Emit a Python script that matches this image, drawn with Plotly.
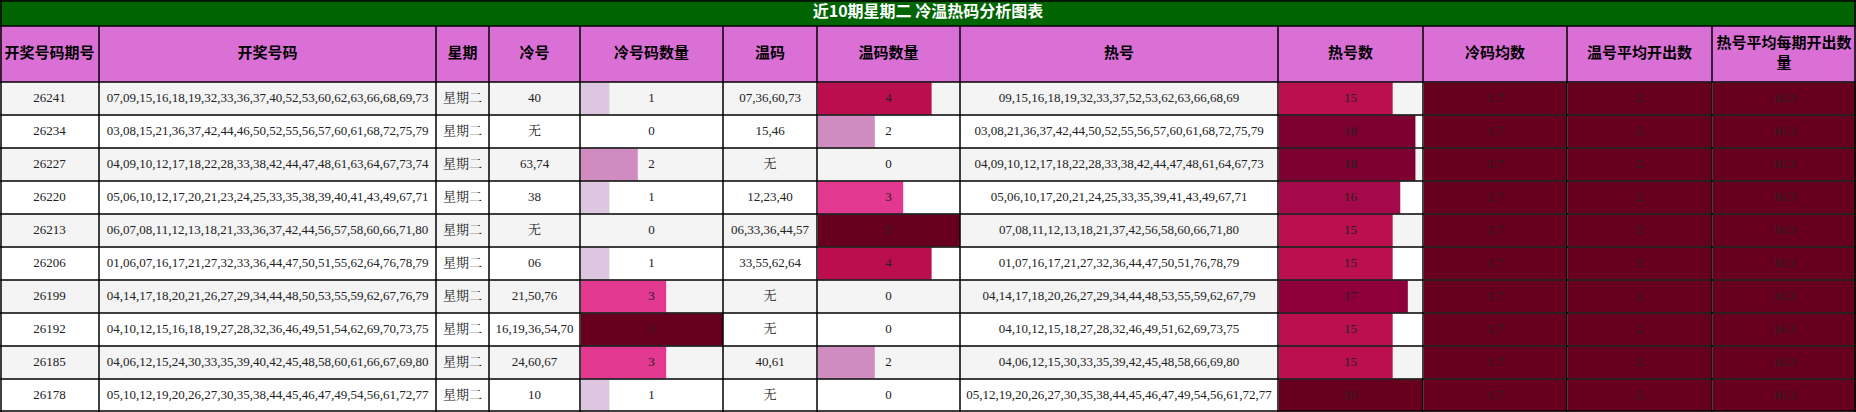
import plotly.graph_objects as go

# data
periods = ["26241", "26234", "26227", "26220", "26213", "26206", "26199", "26192", "26185", "26178"]
draws = [
    "07,09,15,16,18,19,32,33,36,37,40,52,53,60,62,63,66,68,69,73",
    "03,08,15,21,36,37,42,44,46,50,52,55,56,57,60,61,68,72,75,79",
    "04,09,10,12,17,18,22,28,33,38,42,44,47,48,61,63,64,67,73,74",
    "05,06,10,12,17,20,21,23,24,25,33,35,38,39,40,41,43,49,67,71",
    "06,07,08,11,12,13,18,21,33,36,37,42,44,56,57,58,60,66,71,80",
    "01,06,07,16,17,21,27,32,33,36,44,47,50,51,55,62,64,76,78,79",
    "04,14,17,18,20,21,26,27,29,34,44,48,50,53,55,59,62,67,76,79",
    "04,10,12,15,16,18,19,27,28,32,36,46,49,51,54,62,69,70,73,75",
    "04,06,12,15,24,30,33,35,39,40,42,45,48,58,60,61,66,67,69,80",
    "05,10,12,19,20,26,27,30,35,38,44,45,46,47,49,54,56,61,72,77",
]
weekday = ["星期二"] * 10
cold = ["40", "无", "63,74", "38", "无", "06", "21,50,76", "16,19,36,54,70", "24,60,67", "10"]
cold_n = [1, 0, 2, 1, 0, 1, 3, 5, 3, 1]
warm = ["07,36,60,73", "15,46", "无", "12,23,40", "06,33,36,44,57", "33,55,62,64", "无", "无", "40,61", "无"]
warm_n = [4, 2, 0, 3, 5, 4, 0, 0, 2, 0]
hot = [
    "09,15,16,18,19,32,33,37,52,53,62,63,66,68,69",
    "03,08,21,36,37,42,44,50,52,55,56,57,60,61,68,72,75,79",
    "04,09,10,12,17,18,22,28,33,38,42,44,47,48,61,64,67,73",
    "05,06,10,17,20,21,24,25,33,35,39,41,43,49,67,71",
    "07,08,11,12,13,18,21,37,42,56,58,60,66,71,80",
    "01,07,16,17,21,27,32,36,44,47,50,51,76,78,79",
    "04,14,17,18,20,26,27,29,34,44,48,53,55,59,62,67,79",
    "04,10,12,15,18,27,28,32,46,49,51,62,69,73,75",
    "04,06,12,15,30,33,35,39,42,45,48,58,66,69,80",
    "05,12,19,20,26,27,30,35,38,44,45,46,47,49,54,56,61,72,77",
]
hot_n = [15, 18, 18, 16, 15, 15, 17, 15, 15, 19]
cold_avg = [1.7] * 10
warm_avg = [2] * 10
hot_avg = [16.3] * 10

headers = ["开奖号码期号", "开奖号码", "星期", "冷号", "冷号码数量", "温码", "温码数量",
           "热号", "热号数", "冷码均数", "温号平均开出数", "热号平均每期开出数<br>量"]
title = "近10期星期二 冷温热码分析图表"

# layout geometry (pixels)
W, H = 1856, 412
edges = [0, 99, 436, 489, 580, 723, 817, 960, 1278, 1423, 1567, 1712, 1856]
TITLE_H, HEAD_H, ROW_H = 26, 56, 33
top = TITLE_H + HEAD_H

cnt_colors = {1: "#dcc6e0", 2: "#d08cc0", 3: "#e3388f", 4: "#bb0e4e", 5: "#67001f"}
hot_colors = {15: "#bc0f50", 16: "#a6094a", 17: "#8f003a", 18: "#7c0030", 19: "#67001f"}

columns = [periods, draws, weekday, cold, cold_n, warm, warm_n, hot, hot_n, cold_avg, warm_avg, hot_avg]
bar_cols = {4: (cold_n, 5, lambda v: cnt_colors.get(v)),
            6: (warm_n, 5, lambda v: cnt_colors.get(v)),
            8: (hot_n, 19, lambda v: hot_colors.get(v)),
            9: (cold_avg, 1.7, lambda v: "#67001f"),
            10: (warm_avg, 2, lambda v: "#67001f"),
            11: (hot_avg, 16.3, lambda v: "#67001f")}

row_y = [top + ROW_H * (i + 0.5) for i in range(len(periods))]

fig = go.Figure()
shapes = []
shapes.append(dict(type="rect", x0=0, x1=W, y0=0, y1=TITLE_H, fillcolor="#006400", line_width=0, layer="below"))
shapes.append(dict(type="rect", x0=0, x1=W, y0=TITLE_H, y1=top, fillcolor="#da70d6", line_width=0, layer="below"))
for i in range(len(periods)):
    shapes.append(dict(type="rect", x0=0, x1=W, y0=top + ROW_H * i, y1=top + ROW_H * (i + 1),
                       fillcolor="#f4f4f4" if i % 2 == 0 else "#ffffff", line_width=0, layer="below"))

for c, (vals, vmax, colf) in bar_cols.items():
    left, width = edges[c], edges[c + 1] - edges[c]
    fig.add_trace(go.Bar(
        y=row_y, x=[v / vmax * (width - 1) for v in vals], base=[left + 1] * len(vals),
        orientation="h", width=ROW_H - 1,
        marker=dict(color=[colf(v) or "rgba(0,0,0,0)" for v in vals], line_width=0),
        hoverinfo="skip", showlegend=False))

# grid lines
for y in [1, TITLE_H] + [top + ROW_H * i for i in range(len(periods))] + [H - 1]:
    shapes.append(dict(type="line", x0=0, x1=W, y0=y, y1=y, line=dict(color="black", width=1.5)))
for k, x in enumerate(edges):
    x = min(max(x, 1), W - 1)
    shapes.append(dict(type="line", x0=x, x1=x, y0=0 if k in (0, len(edges) - 1) else TITLE_H, y1=H,
                       line=dict(color="black", width=1.5)))

# cell texts
xs, ys, txt = [], [], []
for c, col in enumerate(columns):
    cx = (edges[c] + edges[c + 1]) / 2
    for i, v in enumerate(col):
        xs.append(cx)
        ys.append(row_y[i])
        txt.append(str(v))
fig.add_trace(go.Scatter(x=xs, y=ys, text=txt, mode="text", hoverinfo="skip", showlegend=False,
                         textfont=dict(family="Liberation Serif, Noto Serif CJK SC, serif", size=13, color="#222")))

hx = [(edges[c] + edges[c + 1]) / 2 for c in range(len(headers))]
fig.add_trace(go.Scatter(x=hx, y=[TITLE_H + HEAD_H / 2] * len(headers), text=["<b>%s</b>" % h for h in headers],
                         mode="text", hoverinfo="skip", showlegend=False,
                         textfont=dict(family="Noto Sans CJK SC", size=15, color="black")))
fig.add_trace(go.Scatter(x=[W / 2], y=[TITLE_H / 2], text=["<b>%s</b>" % title], mode="text",
                         hoverinfo="skip", showlegend=False, cliponaxis=False,
                         textfont=dict(family="Noto Sans CJK SC", size=16, color="white")))

fig.update_layout(
    width=W, height=H, margin=dict(l=0, r=0, t=0, b=0),
    paper_bgcolor="white", plot_bgcolor="white", shapes=shapes, barmode="overlay",
    xaxis=dict(range=[0, W], visible=False, fixedrange=True),
    yaxis=dict(range=[H, 0], visible=False, fixedrange=True),
)
fig.write_html("out.html", config={"displayModeBar": False},
               post_script="document.body.style.margin='0';document.body.style.overflow='hidden';")
